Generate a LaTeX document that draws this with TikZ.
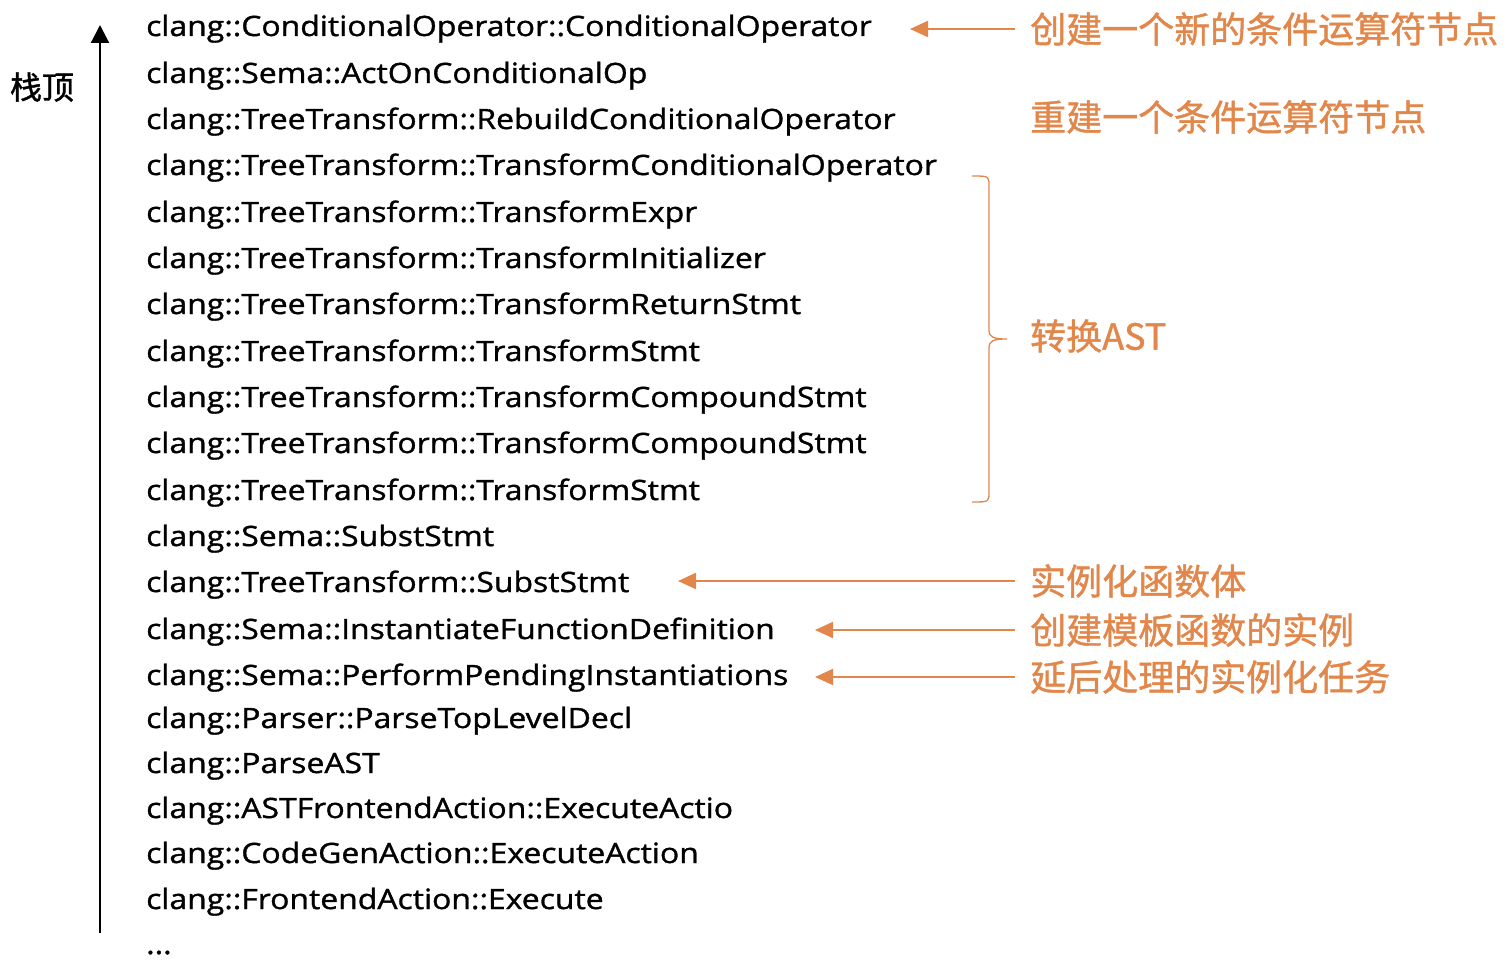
\documentclass[tikz,border=0pt]{standalone}
\usepackage{fontspec}
\setmainfont{Open Sans}[FakeStretch=1.14, FakeBold=1.2]
\newfontfamily\cjk{Noto Sans CJK SC}[FakeBold=1.2]
\usetikzlibrary{arrows.meta}
\definecolor{orng}{RGB}{226,135,75}
\newcommand\stackfont{\fontsize{28}{30}\selectfont}
\tikzset{
  fn/.style={anchor=base west, inner sep=0pt, font=\stackfont},
  note/.style={anchor=west, inner sep=0pt, text=orng, font=\cjk\fontsize{36}{40}\selectfont},
  oarrow/.style={draw=orng, line width=2pt, -{Triangle[length=18pt,width=16pt]}},
  barrow/.style={draw=black, line width=2.2pt, -{Triangle[length=18pt,width=18pt]}},
  bracestyle/.style={draw=orng, line width=1.3pt}
}
\begin{document}
\begin{tikzpicture}[x=1pt,y=-1pt]
\useasboundingbox (0,0) rectangle (1512,960);
% stack frames
\node[fn] (f1) at (146,36) {clang::ConditionalOperator::ConditionalOperator};
\node[fn] (f2) at (146,83) {clang::Sema::ActOnConditionalOp};
\node[fn] (f3) at (146,129) {clang::TreeTransform::RebuildConditionalOperator};
\node[fn] (f4) at (146,175) {clang::TreeTransform::TransformConditionalOperator};
\node[fn] (f5) at (146,222) {clang::TreeTransform::TransformExpr};
\node[fn] (f6) at (146,268) {clang::TreeTransform::TransformInitializer};
\node[fn] (f7) at (146,314) {clang::TreeTransform::TransformReturnStmt};
\node[fn] (f8) at (146,361) {clang::TreeTransform::TransformStmt};
\node[fn] (f9) at (146,407) {clang::TreeTransform::TransformCompoundStmt};
\node[fn] (f10) at (146,453) {clang::TreeTransform::TransformCompoundStmt};
\node[fn] (f11) at (146,500) {clang::TreeTransform::TransformStmt};
\node[fn] (f12) at (146,546) {clang::Sema::SubstStmt};
\node[fn] (f13) at (146,592) {clang::TreeTransform::SubstStmt};
\node[fn] (f14) at (146,639) {clang::Sema::InstantiateFunctionDefinition};
\node[fn] (f15) at (146,685) {clang::Sema::PerformPendingInstantiations};
\node[fn] (f16) at (146,728) {clang::Parser::ParseTopLevelDecl};
\node[fn] (f17) at (146,773) {clang::ParseAST};
\node[fn] (f18) at (146,818) {clang::ASTFrontendAction::ExecuteActio};
\node[fn] (f19) at (146,863) {clang::CodeGenAction::ExecuteAction};
\node[fn] (f20) at (146,909) {clang::FrontendAction::Execute};
\node[fn] (f21) at (146,954) {...};
% stack top label and arrow
\node[inner sep=0pt, font=\cjk\fontsize{32}{36}\selectfont] (top) at (42,87) {栈顶};
\coordinate (vb) at (100,933);
\coordinate (vt) at (100,25);
\draw[barrow] (vb) -- (vt);
% notes
\node[note] (n1) at (1030,29) {创建一个新的条件运算符节点};
\node[note] (n2) at (1030,117) {重建一个条件运算符节点};
\node[note] (n3) at (1030,336) {转换AST};
\node[note] (n4) at (1030,581) {实例化函数体};
\node[note] (n5) at (1030,630) {创建模板函数的实例};
\node[note] (n6) at (1030,677) {延后处理的实例化任务};
% arrow tips
\coordinate (t1) at (910,29);
\coordinate (t4) at (678,581);
\coordinate (t5) at (815,630);
\coordinate (t6) at (815,677);
\draw[oarrow] ([xshift=-15pt]n1.west) -- (t1);
\draw[oarrow] ([xshift=-15pt]n4.west) -- (t4);
\draw[oarrow] ([xshift=-15pt]n5.west) -- (t5);
\draw[oarrow] ([xshift=-15pt]n6.west) -- (t6);
% brace
\coordinate (btop) at (972,176);
\coordinate (bbot) at (972,502);
\coordinate (btip) at (1007,339);
\draw[bracestyle] (btop) .. controls (989,176) .. (989,186) -- (989,330)
  .. controls (989,337) and (993,339) .. (btip)
  .. controls (993,339) and (989,341) .. (989,348) -- (989,492)
  .. controls (989,502) .. (bbot);
\end{tikzpicture}
\end{document}
